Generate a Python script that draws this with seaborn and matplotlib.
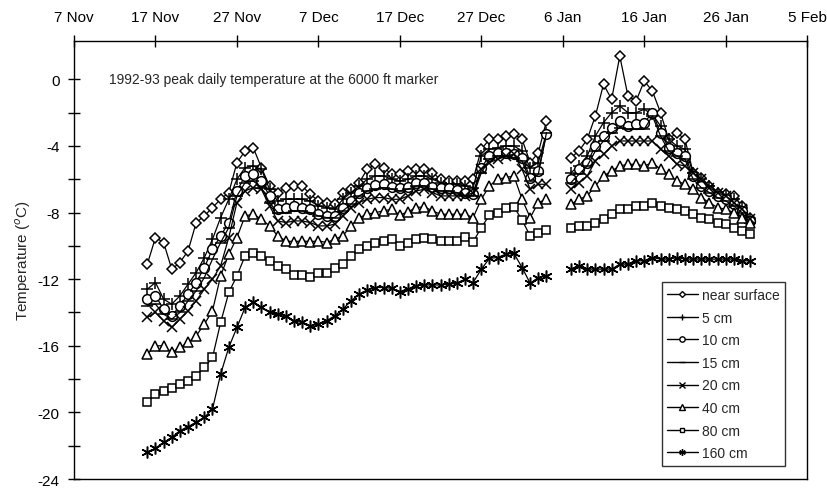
import pandas as pd
import numpy as np
import matplotlib
matplotlib.use("Agg")
import matplotlib.pyplot as plt
from matplotlib.lines import Line2D
import seaborn as sns

# --- Data ---
SEG1_START = "1992-11-16"
SEG2_START = "1993-01-07"

depths = ["near surface", "5 cm", "10 cm", "15 cm", "20 cm", "40 cm", "80 cm", "160 cm"]

near_surface_1 = [-11.1, -9.5, -9.8, -11.4, -11.0, -10.3, -8.6, -8.2, -7.7, -7.2,
                  -6.8, -5.0, -4.3, -4.1, -5.3, -6.4, -6.8, -6.5, -6.4, -6.4,
                  -6.9, -7.3, -7.4, -7.5, -6.8, -6.6, -6.2, -5.4, -5.1, -5.3,
                  -5.7, -5.7, -5.5, -5.4, -5.4, -5.6, -6.0, -6.1, -6.1, -6.1,
                  -6.0, -4.2, -3.6, -3.6, -3.4, -3.3, -3.6, -5.0, -4.4, -2.5]
near_surface_2 = [-4.7, -4.3, -3.6, -2.2, -0.3, -1.2, 1.4, -1.0, -1.3, -0.1, -0.7, -2.0,
                  -3.6, -3.2, -3.6, -5.6, -5.9, -6.4, -6.8, -6.9, -7.0, -7.6, -8.3]

cm5_1 = [-12.6, -12.2, -13.2, -13.5, -13.0, -12.3, -11.6, -10.7, -9.6, -8.3,
         -7.2, -6.0, -5.3, -5.2, -5.4, -6.6, -7.3, -7.2, -7.2, -7.2,
         -7.3, -7.6, -7.7, -7.8, -7.2, -6.8, -6.4, -6.0, -5.8, -5.8,
         -6.0, -6.1, -6.0, -5.8, -5.8, -6.0, -6.2, -6.3, -6.3, -6.4,
         -6.5, -4.6, -4.2, -4.1, -4.0, -4.0, -4.3, -5.3, -5.0, -3.2]
cm5_2 = [-5.6, -5.2, -4.6, -3.4, -2.6, -2.0, -1.6, -2.0, -2.0, -1.8, -2.1, -2.8,
         -3.6, -4.0, -4.2, -5.6, -6.0, -6.4, -6.8, -7.0, -7.2, -7.7, -8.4]

cm10_1 = [-13.2, -13.0, -13.8, -14.2, -13.6, -12.9, -12.2, -11.3, -10.2, -9.4,
          -8.6, -6.7, -5.8, -5.7, -6.1, -7.0, -7.8, -7.7, -7.6, -7.7,
          -7.8, -8.1, -8.2, -8.2, -7.7, -7.3, -6.8, -6.5, -6.35, -6.3,
          -6.45, -6.55, -6.45, -6.2, -6.2, -6.45, -6.55, -6.55, -6.65, -6.8,
          -6.9, -5.3, -4.6, -4.4, -4.4, -4.5, -4.7, -5.9, -5.5, -3.3]
cm10_2 = [-6.0, -5.4, -5.0, -4.0, -3.4, -2.9, -2.5, -2.8, -2.7, -2.6, -2.0, -3.2,
          -4.1, -4.4, -4.6, -5.8, -6.4, -6.7, -7.0, -7.2, -7.5, -7.9, -8.5]

cm15_1 = [-13.6, -13.5, -14.1, -14.4, -14.0, -13.3, -12.7, -11.9, -10.8, -9.8,
          -8.9, -7.0, -6.2, -6.1, -6.5, -7.4, -8.0, -8.0, -7.9, -7.9,
          -8.0, -8.2, -8.3, -8.3, -7.9, -7.5, -7.0, -6.7, -6.6, -6.5,
          -6.6, -6.7, -6.6, -6.4, -6.4, -6.6, -6.7, -6.7, -6.8, -7.0,
          -7.0, -5.6, -4.8, -4.6, -4.6, -4.7, -4.9, -6.1, -5.7, -3.2]
cm15_2 = [-6.2, -5.7, -5.2, -4.3, -3.7, -3.2, -2.9, -3.0, -3.0, -3.0, -2.2, -3.4,
          -4.3, -4.6, -4.8, -6.0, -6.5, -6.8, -7.1, -7.3, -7.6, -8.0, -8.6]

cm20_1 = [-14.3, -14.0, -14.5, -14.9, -14.4, -13.9, -13.3, -12.6, -12.0, -11.2,
          -9.5, -7.4, -6.7, -6.5, -6.6, -7.6, -8.5, -8.6, -8.5, -8.5,
          -8.6, -8.8, -8.8, -8.7, -8.2, -7.7, -7.4, -7.2, -7.1, -7.1,
          -7.2, -7.2, -7.0, -6.7, -6.6, -6.8, -7.0, -7.0, -7.0, -7.0,
          -6.8, -5.4, -5.0, -4.8, -4.6, -4.5, -5.4, -6.6, -6.3, -6.3]
cm20_2 = [-6.6, -6.2, -5.8, -4.9, -4.5, -4.0, -3.7, -3.7, -3.7, -3.7, -3.7, -4.2,
          -4.6, -5.1, -5.2, -5.6, -6.0, -6.5, -6.8, -7.0, -7.4, -7.8, -8.4]

cm40_1 = [-16.5, -16.0, -16.0, -16.4, -16.1, -15.8, -15.4, -14.7, -13.9, -11.8,
          -10.5, -9.5, -8.2, -8.1, -8.4, -8.8, -9.4, -9.7, -9.75, -9.7,
          -9.75, -9.7, -9.8, -9.6, -9.4, -8.8, -8.3, -8.1, -8.0, -7.9,
          -7.8, -8.15, -7.95, -7.7, -7.65, -7.9, -8.1, -8.1, -8.1, -8.1,
          -8.3, -7.2, -6.4, -6.0, -5.9, -5.8, -7.2, -8.3, -7.4, -7.2]
cm40_2 = [-7.5, -7.2, -7.0, -6.4, -5.8, -5.5, -5.2, -5.1, -5.1, -5.2, -5.0, -5.4,
          -5.7, -6.1, -6.3, -6.6, -7.1, -7.4, -7.7, -7.8, -8.0, -8.3, -8.6]

cm80_1 = [-19.4, -18.9, -18.7, -18.55, -18.3, -18.1, -17.8, -17.3, -16.7, -14.6,
          -12.8, -11.8, -10.6, -10.4, -10.6, -10.9, -11.2, -11.4, -11.75, -11.75,
          -11.85, -11.65, -11.6, -11.3, -11.1, -10.6, -10.2, -10.0, -9.8, -9.7,
          -9.6, -10.0, -9.8, -9.6, -9.55, -9.6, -9.7, -9.7, -9.7, -9.45,
          -9.75, -8.9, -8.15, -8.0, -7.75, -7.65, -8.45, -9.4, -9.2, -9.05]
cm80_2 = [-8.9, -8.8, -8.8, -8.6, -8.4, -8.1, -7.8, -7.8, -7.6, -7.6, -7.4, -7.6,
          -7.7, -7.8, -7.9, -8.1, -8.3, -8.4, -8.6, -8.7, -8.9, -9.1, -9.3]

cm160_1 = [-22.4, -22.15, -21.8, -21.5, -21.1, -20.85, -20.6, -20.3, -19.8, -17.7,
           -16.1, -14.9, -13.7, -13.4, -13.7, -14.0, -14.1, -14.2, -14.5, -14.6,
           -14.8, -14.7, -14.5, -14.2, -13.8, -13.3, -12.9, -12.65, -12.5, -12.5,
           -12.55, -12.75, -12.6, -12.4, -12.35, -12.35, -12.35, -12.3, -12.25, -12.0,
           -12.2, -11.4, -10.75, -10.7, -10.5, -10.45, -11.3, -12.25, -11.9, -11.8]
cm160_2 = [-11.4, -11.2, -11.4, -11.4, -11.4, -11.4, -11.1, -11.1, -10.9, -10.9, -10.7, -10.8,
           -10.8, -10.7, -10.8, -10.8, -10.8, -10.8, -10.8, -10.8, -10.8, -10.9, -10.9]

series = {
    "near surface": (near_surface_1, near_surface_2),
    "5 cm": (cm5_1, cm5_2),
    "10 cm": (cm10_1, cm10_2),
    "15 cm": (cm15_1, cm15_2),
    "20 cm": (cm20_1, cm20_2),
    "40 cm": (cm40_1, cm40_2),
    "80 cm": (cm80_1, cm80_2),
    "160 cm": (cm160_1, cm160_2),
}

# marker, size for each depth
MARKERS = {
    "near surface": ("D", 5.5),
    "5 cm": ("+", 8.5),
    "10 cm": ("o", 7.0),
    "15 cm": ("_", 8.0),
    "20 cm": ("x", 7.0),
    "40 cm": ("^", 7.0),
    "80 cm": ("s", 6.2),
    "160 cm": ((6, 2, 0), 8.5),
}

TICK_DATES = pd.date_range("1992-11-07", "1993-02-05", freq="10D")


def build_frame():
    rows = []
    for depth, (seg1, seg2) in series.items():
        for seg_id, (start, vals) in enumerate([(SEG1_START, seg1), (SEG2_START, seg2)]):
            dates = pd.date_range(start, periods=len(vals), freq="D")
            for d, v in zip(dates, vals):
                rows.append({"date": d, "temp": v, "depth": depth, "segment": seg_id})
    return pd.DataFrame(rows)


df = build_frame()

sns.set_theme(style="white")
plt.rcParams["font.family"] = ["Liberation Sans", "DejaVu Sans"]
plt.rcParams["axes.edgecolor"] = "black"
plt.rcParams["axes.linewidth"] = 1.0

fig = plt.figure(figsize=(8.27, 4.89), dpi=100)
ax = fig.add_axes([0.0895, 0.0184, 0.8865, 0.8956])

for depth in depths:
    marker, ms = MARKERS[depth]
    sub = df[df["depth"] == depth]
    sns.lineplot(data=sub, x="date", y="temp", units="segment", estimator=None,
                 color="black", lw=0.9, marker=marker, markersize=ms,
                 markerfacecolor="white", markeredgecolor="black",
                 markeredgewidth=1.1, legend=False, ax=ax)

ax.set_xlim(TICK_DATES[0], TICK_DATES[-1])
ax.set_ylim(-24, 2.3)

ax.set_xticks(TICK_DATES)
ax.set_xticklabels([f"{d.day} {d.strftime('%b')}" for d in TICK_DATES])
ax.xaxis.tick_top()
ax.set_xlabel("")
ax.tick_params(axis="x", direction="inout", length=9, width=1, pad=8,
               labelsize=11, colors="black", top=True, bottom=False)

ax.set_yticks(np.arange(-24, 1, 2))
ax.set_yticklabels([str(v) if v % 4 == 0 else "" for v in range(-24, 1, 2)])
ax.tick_params(axis="y", direction="inout", length=9, width=1, pad=6,
               labelsize=11, colors="black", left=True)
ax.set_ylabel("Temperature ($^{o}$C)", fontsize=11, labelpad=3)

for side in ["top", "bottom", "left", "right"]:
    ax.spines[side].set_visible(True)
    ax.spines[side].set_color("black")

ax.text(0.048, 0.913, "1992-93 peak daily temperature at the 6000 ft marker",
        transform=ax.transAxes, fontsize=10, va="center", ha="left")

handles = []
for depth in depths:
    marker, ms = MARKERS[depth]
    handles.append(Line2D([], [], color="black", lw=1.0, marker=marker,
                          markersize=ms * 0.55, markerfacecolor="white",
                          markeredgecolor="black", markeredgewidth=1.0))
leg = ax.legend(handles, depths, loc="lower right", bbox_to_anchor=(0.97, 0.03),
                frameon=True, fancybox=False, fontsize=10, handlelength=2.2,
                handletextpad=0.3, labelspacing=0.62, borderpad=0.4,
                borderaxespad=0)
leg.get_frame().set_edgecolor("black")
leg.get_frame().set_linewidth(1.0)

fig.savefig("out.png", dpi=100)
